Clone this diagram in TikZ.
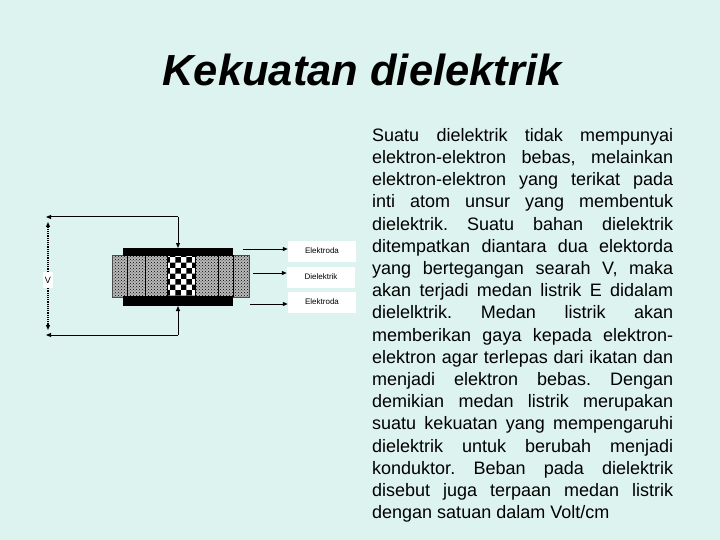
\documentclass[tikz,border=0pt]{standalone}
\usepackage{fontspec}
\setmainfont{Liberation Sans}
\usetikzlibrary{patterns,arrows.meta}
\definecolor{bg}{HTML}{DDF3EF}
\begin{document}
\frenchspacing
\begin{tikzpicture}[x=1pt,y=-1pt,
  wire/.style={line width=1pt},
  lab/.style={fill=white,font=\fontsize{8}{9}\selectfont,minimum width=68pt,minimum height=21pt,inner sep=2pt},
  tip/.style={-{Triangle[length=5pt,width=4pt]}}]
\fill[bg] (0,0) rectangle (720,540);
\node[font=\fontsize{43.5}{48}\selectfont\bfseries\itshape] (title) at (362,70) {Kekuatan dielektrik};
% dielectric
\fill[gray!55] (112,255) rectangle (249,297);
\fill[pattern=crosshatch dots,pattern color=black] (112,255) rectangle (249,297);
\fill[white] (167,255) rectangle (195,297);
\fill[pattern=checkerboard,pattern color=black] (167,255) rectangle (195,297);
\draw[black!70] (112,255) rectangle (249,297);
\foreach \xx in {127,145,167,195,218,233}{\draw[line width=1pt] (\xx,255) -- (\xx,297);}
\fill[black] (123,248) rectangle (233,256);
\fill[black] (123,296) rectangle (233,306);
\coordinate (topc) at (178,248);
\coordinate (botc) at (178,306);
\coordinate (tl) at (46,217);
\coordinate (bl) at (46,335);
\draw[wire,tip] (178,217) -- (topc);
\draw[wire,tip] (178,217) -- (tl);
\draw[wire,tip] (178,335) -- (botc);
\draw[wire,tip] (178,335) -- (bl);
\node[fill=white,font=\fontsize{9}{10}\selectfont,inner sep=2pt,minimum height=16pt] (V) at (48,280) {V};
\draw[densely dotted,line width=1.2pt,tip] (V.north) -- (48,222);
\draw[densely dotted,line width=1.2pt,tip] (V.south) -- (48,330);
\node[lab] (L1) at (322,251) {Elektroda};
\node[lab] (L2) at (321,277) {Dielektrik};
\node[lab] (L3) at (322,302) {Elektroda};
\coordinate (a1) at (243,249);
\coordinate (a2) at (253,273);
\coordinate (a3) at (250,304);
\draw[wire,tip] (a1) -- (a1 -| L1.west);
\draw[wire,tip] (a2) -- (a2 -| L2.west);
\draw[wire,tip] (a3) -- (a3 -| L3.west);
\newcommand\Ln[1]{\hbox to 301pt{\spaceskip=0.25em plus 1fil minus 0.1em\relax #1}}
\node[anchor=north west,inner sep=0pt,font=\fontsize{18}{22.2}\selectfont] (txt) at (372,128) {\vbox{\baselineskip=22.2pt
\Ln{Suatu dielektrik tidak mempunyai}
\Ln{elektron-elektron bebas, melainkan}
\Ln{elektron-elektron yang terikat pada}
\Ln{inti atom unsur yang membentuk}
\Ln{dielektrik. Suatu bahan dielektrik}
\Ln{ditempatkan diantara dua elektorda}
\Ln{yang bertegangan searah V, maka}
\Ln{akan terjadi medan listrik E didalam}
\Ln{dielelktrik. Medan listrik akan}
\Ln{memberikan gaya kepada elektron-}
\Ln{elektron agar terlepas dari ikatan dan}
\Ln{menjadi elektron bebas. Dengan}
\Ln{demikian medan listrik merupakan}
\Ln{suatu kekuatan yang mempengaruhi}
\Ln{dielektrik untuk berubah menjadi}
\Ln{konduktor. Beban pada dielektrik}
\Ln{disebut juga terpaan medan listrik}
\hbox{dengan satuan dalam Volt/cm}}};
\end{tikzpicture}
\end{document}
